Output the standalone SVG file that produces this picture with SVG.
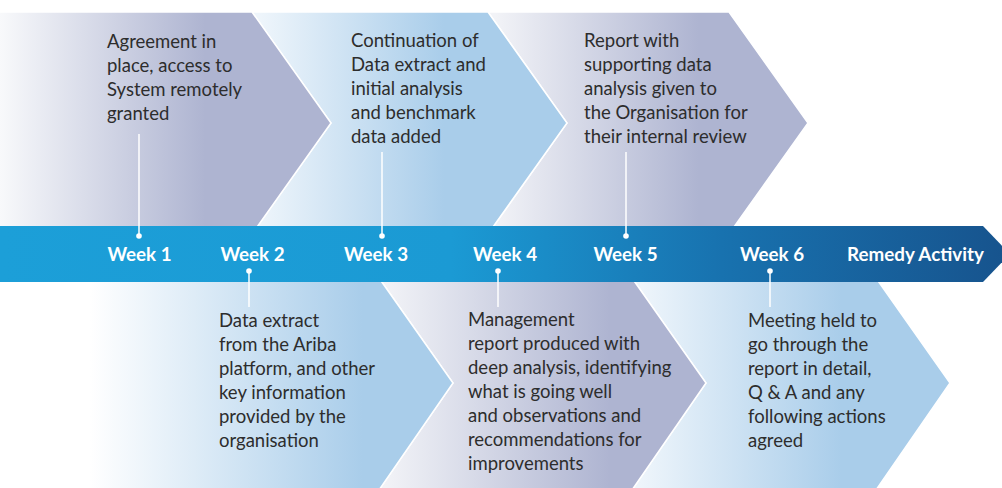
<svg xmlns="http://www.w3.org/2000/svg" width="1002" height="488" viewBox="0 0 1002 488">
<defs>
<linearGradient id="gP1" gradientUnits="userSpaceOnUse" x1="0" y1="0" x2="331" y2="0"><stop offset="0" stop-color="#f8f9fb"/><stop offset="0.62" stop-color="#aeb4d1"/><stop offset="1" stop-color="#aeb4d1"/></linearGradient>
<linearGradient id="gB2" gradientUnits="userSpaceOnUse" x1="260" y1="0" x2="567" y2="0"><stop offset="0" stop-color="#eef5fb"/><stop offset="0.6" stop-color="#a9cdea"/><stop offset="1" stop-color="#a9cdea"/></linearGradient>
<linearGradient id="gP3" gradientUnits="userSpaceOnUse" x1="495" y1="0" x2="808" y2="0"><stop offset="0" stop-color="#f2f3f7"/><stop offset="0.65" stop-color="#aeb4d1"/><stop offset="1" stop-color="#aeb4d1"/></linearGradient>
<linearGradient id="gB4" gradientUnits="userSpaceOnUse" x1="90" y1="0" x2="453" y2="0"><stop offset="0" stop-color="#ffffff"/><stop offset="0.75" stop-color="#a9cdea"/><stop offset="1" stop-color="#a9cdea"/></linearGradient>
<linearGradient id="gP5" gradientUnits="userSpaceOnUse" x1="385" y1="0" x2="706" y2="0"><stop offset="0" stop-color="#f2f3f7"/><stop offset="0.7" stop-color="#aeb4d1"/><stop offset="1" stop-color="#aeb4d1"/></linearGradient>
<linearGradient id="gB6" gradientUnits="userSpaceOnUse" x1="640" y1="0" x2="950" y2="0"><stop offset="0" stop-color="#eef5fb"/><stop offset="0.65" stop-color="#a9cdea"/><stop offset="1" stop-color="#a9cdea"/></linearGradient>
<linearGradient id="gBar" gradientUnits="userSpaceOnUse" x1="0" y1="0" x2="1002" y2="0"><stop offset="0" stop-color="#1c9fd8"/><stop offset="0.45" stop-color="#1b9ad4"/><stop offset="0.72" stop-color="#1872af"/><stop offset="1" stop-color="#17548e"/></linearGradient>
</defs>
<style>
.chev{stroke:#ffffff;stroke-width:1.5}
.txt{font-family:Lato,"Open Sans","Liberation Sans",sans-serif;font-size:18.5px;fill:#2d2d2d}
.wk{font-family:Lato,"Open Sans","Liberation Sans",sans-serif;font-size:18.8px;font-weight:bold;fill:#ffffff;text-anchor:middle}
.ln{stroke:#ffffff;stroke-width:1.5;fill:none}
.dot{fill:#ffffff}
</style>
<g id="top-chevrons">
<g id="step3"><polygon class="chev" fill="url(#gP3)" points="488,12 729,12 808,123 729,234 488,234 567,123"/></g>
<g id="step2"><polygon class="chev" fill="url(#gB2)" points="252,12 488,12 567,123 488,234 252,234 331,123"/></g>
<g id="step1"><polygon class="chev" fill="url(#gP1)" points="-2,12 252,12 331,123 252,234 -2,234"/></g>
</g>
<g id="bottom-chevrons">
<g id="step6"><polygon class="chev" fill="url(#gB6)" points="632,278 876,278 950,383 876,490 632,490 706,383"/></g>
<g id="step5"><polygon class="chev" fill="url(#gP5)" points="379,278 632,278 706,383 632,490 379,490 453,383"/></g>
<g id="step4"><polygon fill="url(#gB4)" points="90,278 379,278 453,383 379,490 90,490"/><polyline class="ln" points="379,278 453,383 379,490"/></g>
</g>
<g id="timeline">
<polygon fill="url(#gBar)" points="0,226 983,226 1010,254 983,282 0,282"/>
<text class="wk" x="139.5" y="261">Week 1</text>
<text class="wk" x="252.5" y="261">Week 2</text>
<text class="wk" x="376" y="261">Week 3</text>
<text class="wk" x="505" y="261">Week 4</text>
<text class="wk" x="625.5" y="261">Week 5</text>
<text class="wk" x="772" y="261">Week 6</text>
<text class="wk" x="915.5" y="261">Remedy Activity</text>
</g>
<g id="connectors">
<line class="ln" x1="139" y1="134" x2="139" y2="236"/><circle class="dot" cx="139" cy="236" r="2.8"/>
<line class="ln" x1="382" y1="152" x2="382" y2="236"/><circle class="dot" cx="382" cy="236" r="2.8"/>
<line class="ln" x1="626" y1="152" x2="626" y2="236"/><circle class="dot" cx="626" cy="236" r="2.8"/>
<line class="ln" x1="249" y1="271" x2="249" y2="307"/><circle class="dot" cx="249" cy="271" r="2.8"/>
<line class="ln" x1="498" y1="271" x2="498" y2="307"/><circle class="dot" cx="498" cy="271" r="2.8"/>
<line class="ln" x1="770" y1="271" x2="770" y2="307"/><circle class="dot" cx="770" cy="271" r="2.8"/>
</g>
<g id="label1"><text class="txt" x="107" y="48"><tspan x="107">Agreement in</tspan><tspan x="107" dy="24">place, access to</tspan><tspan x="107" dy="24">System remotely</tspan><tspan x="107" dy="24">granted</tspan></text></g>
<g id="label3"><text class="txt" x="351" y="47"><tspan x="351">Continuation of</tspan><tspan x="351" dy="24">Data extract and</tspan><tspan x="351" dy="24">initial analysis</tspan><tspan x="351" dy="24">and benchmark</tspan><tspan x="351" dy="24">data added</tspan></text></g>
<g id="label5"><text class="txt" x="584" y="47"><tspan x="584">Report with</tspan><tspan x="584" dy="24">supporting data</tspan><tspan x="584" dy="24">analysis given to</tspan><tspan x="584" dy="24">the Organisation for</tspan><tspan x="584" dy="24">their internal review</tspan></text></g>
<g id="label2"><text class="txt" x="219" y="327"><tspan x="219">Data extract</tspan><tspan x="219" dy="24">from the Ariba</tspan><tspan x="219" dy="24">platform, and other</tspan><tspan x="219" dy="24">key information</tspan><tspan x="219" dy="24">provided by the</tspan><tspan x="219" dy="24">organisation</tspan></text></g>
<g id="label4"><text class="txt" x="468" y="326"><tspan x="468">Management</tspan><tspan x="468" dy="24">report produced with</tspan><tspan x="468" dy="24">deep analysis, identifying</tspan><tspan x="468" dy="24">what is going well</tspan><tspan x="468" dy="24">and observations and</tspan><tspan x="468" dy="24">recommendations for</tspan><tspan x="468" dy="24">improvements</tspan></text></g>
<g id="label6"><text class="txt" x="748" y="327"><tspan x="748">Meeting held to</tspan><tspan x="748" dy="24">go through the</tspan><tspan x="748" dy="24">report in detail,</tspan><tspan x="748" dy="24">Q &amp; A and any</tspan><tspan x="748" dy="24">following actions</tspan><tspan x="748" dy="24">agreed</tspan></text></g>
</svg>
